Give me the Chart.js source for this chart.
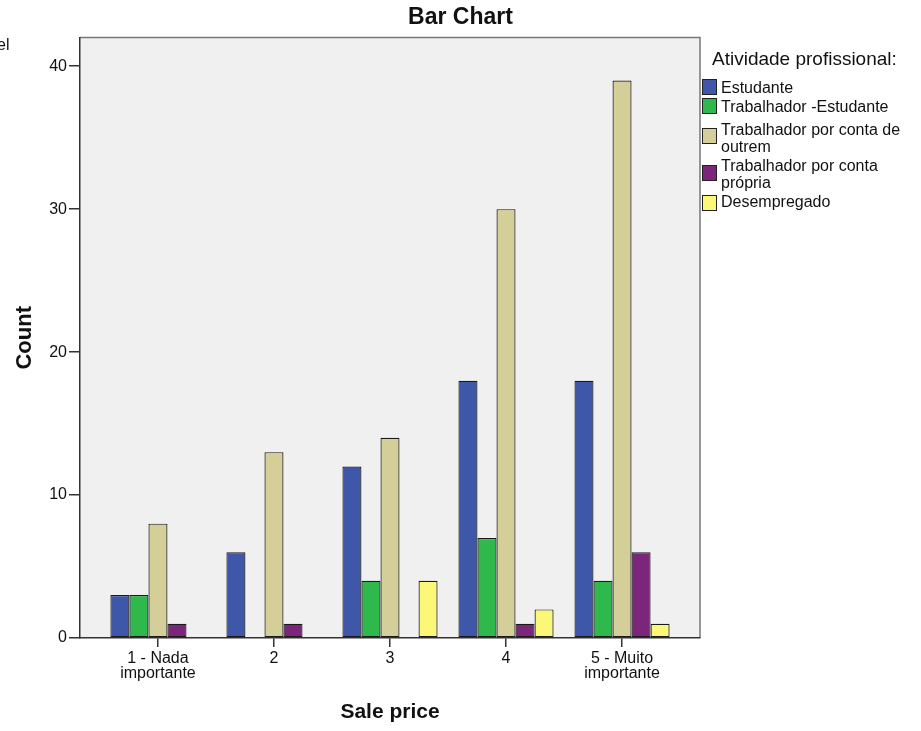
<!DOCTYPE html>
<html>
<head>
<meta charset="utf-8">
<title>Bar Chart</title>
<script src="https://cdn.jsdelivr.net/npm/chart.js@4/dist/chart.umd.min.js"></script>
<style>
  html, body { margin: 0; padding: 0; background: #fff; }
  #wrap { position: relative; width: 921px; height: 731px; overflow: hidden; font-family: "Liberation Sans", Arial, sans-serif; color: #111; }
  #chart { position: absolute; left: 0; top: 0; }
  .frag { position: absolute; left: -3px; top: 36px; font-size: 16px; }
  #legend { position: absolute; left: 0; top: 0; }
  #legend .ttl { position: absolute; left: 712px; top: 48px; font-size: 19px; line-height: 22px; white-space: nowrap; }
  #legend .sw { position: absolute; left: 702px; width: 13px; height: 14px; border: 1px solid #222; }
  #legend .lbl { position: absolute; left: 721px; font-size: 16px; line-height: 16.5px; white-space: nowrap; }
</style>
</head>
<body>
<div id="wrap">
  <canvas id="chart" width="921" height="731"></canvas>
  <span class="frag">el</span>
  <div id="legend"></div>
</div>
<script>
// --- Datos --------------------------------------------------------------------
const categorias = [['1 - Nada', 'importante'], '2', '3', '4', ['5 - Muito', 'importante']];
const posicoes = [1, 2, 3, 4, 5];

const series = ['Estudante', 'Trabalhador -Estudante', 'Trabalhador por conta de outrem', 'Trabalhador por conta própria', 'Desempregado'];
const legendaLinhas = [['Estudante'], ['Trabalhador -Estudante'], ['Trabalhador por conta de', 'outrem'], ['Trabalhador por conta', 'própria'], ['Desempregado']];

const estudante      = [3, 6, 12, 18, 18];
const trabEstudante  = [3, 0, 4, 7, 4];
const contaOutrem    = [8, 13, 14, 30, 39];
const contaPropria   = [1, 1, 0, 1, 6];
const desempregado   = [0, 0, 4, 2, 1];

const yTicks = [0, 10, 20, 30, 40];

const cores = ['#3f57a8', '#2fb84c', '#d4cf98', '#7b267a', '#fbf777'];
const valores = [estudante, trabEstudante, contaOutrem, contaPropria, desempregado];

// --- Fundo cinzento e moldura da área do gráfico ------------------------------
const plotFrame = {
  id: 'plotFrame',
  beforeDraw(chart) {
    const { ctx, chartArea: a } = chart;
    ctx.save();
    ctx.fillStyle = '#f0f0f0';
    ctx.fillRect(a.left, a.top, a.right - a.left, a.bottom - a.top);
    ctx.strokeStyle = '#777';
    ctx.lineWidth = 1.5;
    ctx.beginPath();
    ctx.moveTo(a.left, a.top);
    ctx.lineTo(a.right, a.top);
    ctx.lineTo(a.right, a.bottom);
    ctx.stroke();
    ctx.restore();
  }
};

// contagens nulas ficam sem barra (o espaço mantém-se)
const datasets = series.map((nome, i) => ({
  label: nome,
  data: posicoes.map((x, j) => ({ x: x, y: valores[i][j] === 0 ? null : valores[i][j] })),
  backgroundColor: cores[i],
  borderColor: '#1a1a1a',
  borderWidth: 1.2,
  borderSkipped: false,
  categoryPercentage: 0.82,
  barPercentage: 1
}));

const fonte = { family: '"Liberation Sans", Arial, sans-serif' };

new Chart(document.getElementById('chart'), {
  type: 'bar',
  data: { datasets },
  options: {
    responsive: false,
    animation: false,
    layout: { padding: 0 },
    plugins: {
      legend: { display: false },
      tooltip: { enabled: false },
      title: {
        display: true,
        text: 'Bar Chart',
        color: '#111',
        font: { ...fonte, size: 23, weight: 'bold' },
        padding: { top: 4, bottom: 6 }
      }
    },
    scales: {
      x: {
        type: 'linear',
        offset: false,
        min: 0.328,
        max: 5.672,
        afterFit: s => { s.height = 93; },
        afterBuildTicks: s => { s.ticks = posicoes.map(v => ({ value: v })); },
        ticks: {
          autoSkip: false,
          maxRotation: 0,
          padding: 4,
          color: '#111',
          font: { ...fonte, size: 16, lineHeight: 0.95 },
          callback: v => categorias[v - 1]
        },
        grid: { offset: false, drawOnChartArea: false, drawTicks: true, tickLength: 9, color: '#333', lineWidth: 1.5 },
        border: { display: true, color: '#333', width: 1.5 },
        title: {
          display: true,
          text: 'Sale price',
          color: '#111',
          font: { ...fonte, size: 21, weight: 'bold' },
          padding: { top: 6, bottom: 6 }
        }
      },
      y: {
        min: 0,
        max: 42,
        afterFit: s => { s.width = 80; },
        afterBuildTicks: s => { s.ticks = yTicks.map(v => ({ value: v })); },
        ticks: {
          padding: 2,
          color: '#111',
          font: { ...fonte, size: 16 }
        },
        grid: { drawOnChartArea: false, drawTicks: true, tickLength: 11, color: '#333', lineWidth: 1.5 },
        border: { display: true, color: '#333', width: 1.5 },
        title: {
          display: true,
          text: 'Count',
          color: '#111',
          font: { ...fonte, size: 22, weight: 'bold' },
          padding: { top: 12, bottom: 0 }
        }
      },
      // espaço reservado à direita para a legenda
      legendaEspaco: {
        type: 'linear',
        position: 'right',
        afterFit: s => { s.width = 221; },
        ticks: { display: false },
        grid: { display: false },
        border: { display: false }
      }
    }
  },
  plugins: [plotFrame]
});

// --- Legenda ------------------------------------------------------------------
const legend = document.getElementById('legend');
const swTops = [79, 98, 128, 165, 195];
const lblTops = [80, 99, 122, 158, 194];
legend.innerHTML = '<div class="ttl">Atividade profissional:</div>' +
  legendaLinhas.map((linhas, i) =>
    `<div class="sw" style="top:${swTops[i]}px;background:${cores[i]}"></div>` +
    `<div class="lbl" style="top:${lblTops[i]}px">${linhas.join('<br>')}</div>`
  ).join('');
</script>
</body>
</html>
